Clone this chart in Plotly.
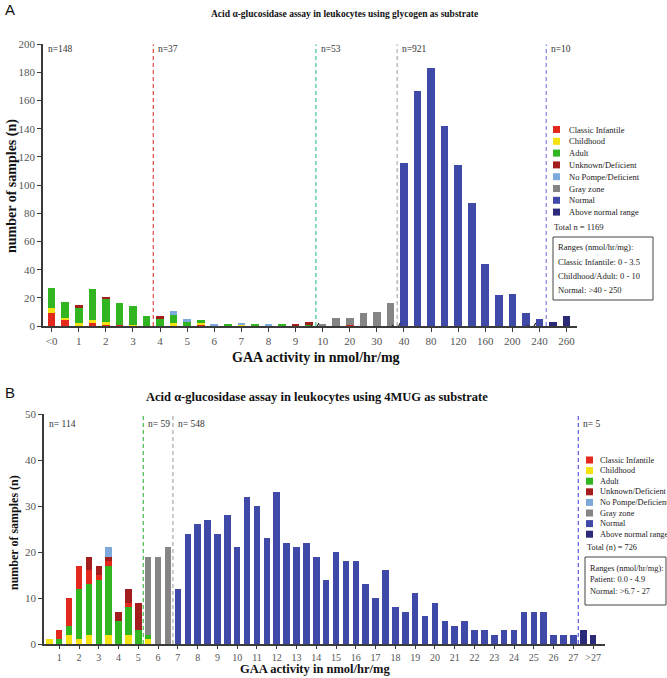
import plotly.graph_objects as go

W, H = 667, 678
SERIF = "Liberation Serif"

# ---------------- data: panel A (glycogen substrate) ----------------
cats_A = ["<0", "0.5", "1", "1.5", "2", "2.5", "3", "3.5", "4", "4.5", "5", "5.5", "6", "6.5",
          "7", "7.5", "8", "8.5", "9", "9.5", "10", "15", "20", "25", "30", "35", "40", "60",
          "80", "100", "120", "140", "160", "180", "200", "220", "240", "250", "260"]
ticks_A = ["<0", "1", "2", "3", "4", "5", "6", "7", "8", "9", "10", "20", "30", "40", "80",
           "120", "160", "200", "240", "260"]

classic_A_x = ["<0", "0.5", "1.5", "2", "2.5", "5.5", "20"]
classic_A_y = [9, 4, 2, 1, 1, 1, 1]
child_A_x = ["<0", "0.5", "1", "1.5", "2", "3", "4.5", "5.5", "7"]
child_A_y = [4, 2, 2, 2, 2, 1, 2, 1, 1]
adult_A_x = ["<0", "0.5", "1", "1.5", "2", "2.5", "3", "3.5", "4", "4.5", "5", "5.5", "6.5",
             "7.5", "8.5", "9.5"]
adult_A_y = [14, 11, 11, 22, 16, 15, 13, 7, 5, 6, 3, 2, 1, 1, 1, 1]
unknown_A_x = ["1", "2", "4", "9", "9.5"]
unknown_A_y = [2, 1, 2, 1, 2]
nopompe_A_x = ["4.5", "5", "6", "7", "8"]
nopompe_A_y = [3, 2, 1, 1, 1]
gray_A_x = ["10", "15", "20", "25", "30", "35"]
gray_A_y = [1, 6, 5, 9, 10, 16]
normal_A_x = ["40", "60", "80", "100", "120", "140", "160", "180", "200", "220", "240"]
normal_A_y = [116, 167, 183, 142, 114, 87, 44, 22, 23, 9, 5]
above_A_x = ["250", "260"]
above_A_y = [3, 7]

# region separators (between categories) and their n labels
sep_A = [("3.5", "4", "#e0463c"), ("9.5", "10", "#3cc48f"), ("35", "40", "#aaaaaa"),
         ("240", "250", "#8080e0")]
nlab_A = ["n=148", "n=37", "n=53", "n=921", "n=10"]
breaks_A = [("9.5", "10"), ("35", "40"), ("220", "240")]

# ---------------- data: panel B (4MUG substrate) ----------------
cats_B = ["0.5", "1", "1.5", "2", "2.5", "3", "3.5", "4", "4.5", "5", "5.5", "6", "6.5", "7",
          "7.5", "8", "8.5", "9", "9.5", "10", "10.5", "11", "11.5", "12", "12.5", "13", "13.5",
          "14", "14.5", "15", "15.5", "16", "16.5", "17", "17.5", "18", "18.5", "19", "19.5",
          "20", "20.5", "21", "21.5", "22", "22.5", "23", "23.5", "24", "24.5", "25", "25.5",
          "26", "26.5", "27", "27.5", ">27"]
ticks_B = ["1", "2", "3", "4", "5", "6", "7", "8", "9", "10", "11", "12", "13", "14", "15",
           "16", "17", "18", "19", "20", "21", "22", "23", "24", "25", "26", "27", ">27"]

child_B_x = ["0.5", "1.5", "2", "2.5", "3.5", "4.5", "5.5"]
child_B_y = [1, 2, 1, 2, 2, 2, 1]
adult_B_x = ["1", "1.5", "2", "2.5", "3", "3.5", "4", "4.5", "5", "5.5"]
adult_B_y = [1, 2, 11, 11, 14, 15, 5, 6, 3, 1]
classic_B_x = ["1", "1.5", "2", "2.5", "3", "3.5", "4.5"]
classic_B_y = [2, 6, 5, 3, 1, 1, 1]
unknown_B_x = ["2.5", "3", "3.5", "4", "4.5", "5"]
unknown_B_y = [3, 2, 1, 2, 3, 6]
nopompe_B_x = ["3.5"]
nopompe_B_y = [2]
gray_B_x = ["5.5", "6", "6.5"]
gray_B_y = [17, 19, 21]
normal_B_x = ["7", "7.5", "8", "8.5", "9", "9.5", "10", "10.5", "11", "11.5", "12", "12.5",
              "13", "13.5", "14", "14.5", "15", "15.5", "16", "16.5", "17", "17.5", "18", "18.5",
              "19", "19.5", "20", "20.5", "21", "21.5", "22", "22.5", "23", "23.5", "24", "24.5",
              "25", "25.5", "26", "26.5", "27"]
normal_B_y = [12, 24, 26, 27, 24, 28, 21, 32, 30, 23, 33, 22, 21, 22, 19, 14, 20, 18, 18, 13,
              10, 16, 8, 7, 11, 6, 9, 5, 4, 5, 3, 3, 2, 3, 3, 7, 7, 7, 2, 2, 2]
above_B_x = ["27.5", ">27"]
above_B_y = [3, 2]

sep_B = [("5", "5.5", "#45b84a"), ("6.5", "7", "#aaaaaa"), ("27", "27.5", "#5a5ae0")]
nlab_B = ["n= 114", "n= 59", "n= 548", "n= 5"]

# ---------------- legend / text ----------------
names = ["Classic Infantile", "Childhood", "Adult", "Unknown/Deficient", "No Pompe/Deficient",
         "Gray zone", "Normal", "Above normal range"]
colors = {"Classic Infantile": "#e3291e", "Childhood": "#f3e20f", "Adult": "#31b520",
          "Unknown/Deficient": "#a41d1d", "No Pompe/Deficient": "#7ea9dd",
          "Gray zone": "#858585", "Normal": "#3f4aa8", "Above normal range": "#2a2a78"}
title_A = "Acid α-glucosidase assay in leukocytes using glycogen as substrate"
title_B = "Acid α-glucosidase assay in leukocytes using 4MUG as substrate"
total_A = "Total n = 1169"
total_B = "Total (n) = 726"
ranges_A = ["Ranges (nmol/hr/mg):", "Classic Infantile: 0 - 3.5", "Childhood/Adult: 0 - 10",
            "Normal: >40 - 250"]
ranges_B = ["Ranges (nmol/hr/mg):", "Patient: 0.0 - 4.9", "Normal: >6.7 - 27"]
xtitle = "GAA activity in nmol/hr/mg"
ytitle = "number of samples (n)"


def px(x):
    return x / W


def py(y):
    return 1 - y / H


fig = go.Figure()

series_A = [("Classic Infantile", classic_A_x, classic_A_y), ("Childhood", child_A_x, child_A_y),
            ("Adult", adult_A_x, adult_A_y), ("Unknown/Deficient", unknown_A_x, unknown_A_y),
            ("No Pompe/Deficient", nopompe_A_x, nopompe_A_y), ("Gray zone", gray_A_x, gray_A_y),
            ("Normal", normal_A_x, normal_A_y), ("Above normal range", above_A_x, above_A_y)]
series_B = [("Childhood", child_B_x, child_B_y), ("Adult", adult_B_x, adult_B_y),
            ("Classic Infantile", classic_B_x, classic_B_y),
            ("Unknown/Deficient", unknown_B_x, unknown_B_y),
            ("No Pompe/Deficient", nopompe_B_x, nopompe_B_y), ("Gray zone", gray_B_x, gray_B_y),
            ("Normal", normal_B_x, normal_B_y), ("Above normal range", above_B_x, above_B_y)]

for name, xs, ys in series_A:
    fig.add_trace(go.Bar(x=[cats_A.index(c) for c in xs], y=ys, name=name, width=0.56,
                         marker=dict(color=colors[name], line=dict(width=0)),
                         xaxis="x", yaxis="y", showlegend=False))
for name, xs, ys in series_B:
    fig.add_trace(go.Bar(x=[cats_B.index(c) for c in xs], y=ys, name=name, width=0.66,
                         marker=dict(color=colors[name], line=dict(width=0)),
                         xaxis="x2", yaxis="y2", showlegend=False))

shapes = []
annotations = []


# separators + n labels
def add_separators(seps, cats, nlabs, xref, yref, ymax, left_edge, ylab, fsize):
    positions = [left_edge] + [(cats.index(a) + cats.index(b)) / 2 for a, b, _ in seps]
    for a, b, col in seps:
        xm = (cats.index(a) + cats.index(b)) / 2
        shapes.append(dict(type="line", xref=xref, yref=yref, x0=xm, x1=xm, y0=0, y1=ymax,
                           line=dict(color=col, width=1.2, dash="4px,3px")))
    for xpos, lab in zip(positions, nlabs):
        annotations.append(dict(text=lab, x=xpos, y=ylab, xref=xref, yref="paper",
                                xanchor="left", yanchor="middle", xshift=3, showarrow=False,
                                font=dict(family=SERIF, size=fsize, color="#333")))


add_separators(sep_A, cats_A, nlab_A, "x", "y", 200, -0.64, py(49), 9.5)
add_separators(sep_B, cats_B, nlab_B, "x2", "y2", 50, -0.54, py(424), 9.5)

# axis breaks
for a, b in breaks_A:
    xm = (cats_A.index(a) + cats_A.index(b)) / 2
    shapes.append(dict(type="path", xref="x", yref="y", xsizemode="pixel", ysizemode="pixel",
                       xanchor=xm, yanchor=0, path="M-5,1 L-1,-5 L3,3",
                       line=dict(color="#222", width=1.2)))


# manual legends
def legend_block(x_sq, y0, dy, sq, gap, total, ranges, box, fsize):
    for i, name in enumerate(names):
        yc = y0 + i * dy
        shapes.append(dict(type="rect", xref="paper", yref="paper", x0=px(x_sq),
                           x1=px(x_sq + sq), y0=py(yc + sq / 2), y1=py(yc - sq / 2),
                           fillcolor=colors[name], line=dict(width=0)))
        annotations.append(dict(text=name, x=px(x_sq + sq + gap), y=py(yc), xref="paper",
                                yref="paper", xanchor="left", yanchor="middle",
                                showarrow=False,
                                font=dict(family=SERIF, size=fsize, color="#222")))
    yt = y0 + len(names) * dy + 3
    annotations.append(dict(text=total, x=px(x_sq - 1), y=py(yt), xref="paper", yref="paper",
                            xanchor="left", yanchor="middle", showarrow=False,
                            font=dict(family=SERIF, size=fsize, color="#222")))
    bx0, by0, bx1, by1, ly0, ldy = box
    shapes.append(dict(type="rect", xref="paper", yref="paper", x0=px(bx0), x1=px(bx1),
                       y0=py(by1), y1=py(by0), line=dict(color="#444", width=1),
                       fillcolor="rgba(0,0,0,0)"))
    for j, line in enumerate(ranges):
        annotations.append(dict(text=line, x=px(bx0 + 3), y=py(ly0 + j * ldy), xref="paper",
                                yref="paper", xanchor="left", yanchor="middle",
                                showarrow=False,
                                font=dict(family=SERIF, size=fsize, color="#222")))


legend_block(553, 129.5, 11.8, 7, 7, total_A, ranges_A, (553, 237, 653, 300, 247.5, 14.3), 8.5)
legend_block(586, 460, 10.6, 7, 5, total_B, ranges_B, (585, 557, 666, 605, 568, 11.5), 8.3)

# titles and labels
annotations += [
    dict(text="<b>" + title_A + "</b>", x=px(344), y=py(14), xref="paper", yref="paper",
         xanchor="center", yanchor="middle", showarrow=False,
         font=dict(family=SERIF, size=9.5, color="#111")),
    dict(text="<b>" + title_B + "</b>", x=px(317), y=py(397), xref="paper", yref="paper",
         xanchor="center", yanchor="middle", showarrow=False,
         font=dict(family=SERIF, size=12.5, color="#111")),
    dict(text="<b>" + xtitle + "</b>", x=px(316), y=py(357), xref="paper", yref="paper",
         xanchor="center", yanchor="middle", showarrow=False,
         font=dict(family=SERIF, size=14, color="#111")),
    dict(text="<b>" + xtitle + "</b>", x=px(315), y=py(669), xref="paper", yref="paper",
         xanchor="center", yanchor="middle", showarrow=False,
         font=dict(family=SERIF, size=12.5, color="#111")),
    dict(text="<b>" + ytitle + "</b>", x=px(12), y=py(186), xref="paper", yref="paper",
         xanchor="center", yanchor="middle", showarrow=False, textangle=-90,
         font=dict(family=SERIF, size=14, color="#111")),
    dict(text="<b>" + ytitle + "</b>", x=px(14), y=py(533), xref="paper", yref="paper",
         xanchor="center", yanchor="middle", showarrow=False, textangle=-90,
         font=dict(family=SERIF, size=12, color="#111")),
    dict(text="A", x=px(3), y=py(9), xref="paper", yref="paper", xanchor="left",
         yanchor="middle", showarrow=False,
         font=dict(family="Liberation Sans", size=15, color="#111")),
    dict(text="B", x=px(3), y=py(392), xref="paper", yref="paper", xanchor="left",
         yanchor="middle", showarrow=False,
         font=dict(family="Liberation Sans", size=15, color="#111")),
]

axis_common = dict(showgrid=False, zeroline=False, showline=True, linecolor="#3a3a3a",
                   linewidth=1.5, ticks="outside", tickcolor="#3a3a3a",
                   tickwidth=1, automargin=False)
tickfont_A = dict(family=SERIF, size=11, color="#555")
tickfont_B = dict(family=SERIF, size=10, color="#555")

fig.update_layout(
    width=W, height=H, margin=dict(l=0, r=0, t=0, b=0),
    paper_bgcolor="white", plot_bgcolor="white", barmode="stack", showlegend=False,
    xaxis=dict(domain=[px(43), px(577)], anchor="y", range=[-0.64, 38.77], ticklen=4,
               tickmode="array", tickvals=[cats_A.index(t) for t in ticks_A],
               ticktext=ticks_A, tickfont=tickfont_A, **axis_common),
    yaxis=dict(domain=[py(326), py(44.3)], anchor="x", range=[0, 200], tickmode="array",
               ticklen=4, tickvals=[0, 20, 40, 60, 80, 100, 120, 140, 160, 180, 200],
               tickfont=tickfont_A, **axis_common),
    xaxis2=dict(domain=[px(44), px(605)], anchor="y2", range=[-0.54, 56.2], ticklen=3,
                tickmode="array", tickvals=[cats_B.index(t) for t in ticks_B],
                ticktext=ticks_B, tickfont=tickfont_B, **axis_common),
    yaxis2=dict(domain=[py(644), py(414)], anchor="x2", range=[0, 50], tickmode="array",
                ticklen=4, tickvals=[0, 10, 20, 30, 40, 50], tickfont=tickfont_A,
                **axis_common),
    shapes=shapes, annotations=annotations,
)

fig.write_html("out.html", config={"displayModeBar": False},
               post_script="document.body.style.margin='0';"
                           "document.body.style.overflow='hidden';")
